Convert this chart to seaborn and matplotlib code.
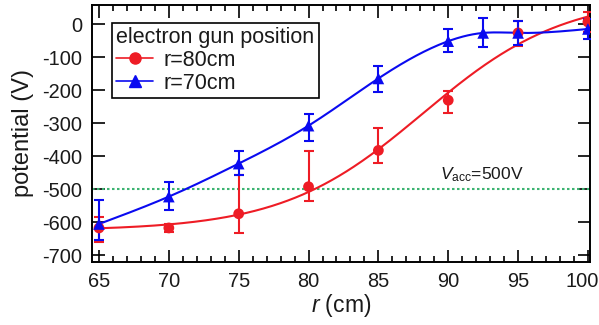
import numpy as np
import pandas as pd
import matplotlib
matplotlib.use("Agg")
import matplotlib.pyplot as plt
import matplotlib.transforms as mtransforms
from matplotlib.lines import Line2D
from matplotlib.ticker import MultipleLocator
import seaborn as sns

# ---- data ----
r80_x = [65, 70, 75, 80, 85, 90, 95, 100]
r80_y = [-618, -618, -575, -493, -383, -231, -27, 6]
r80_err_lo = [42, 12, 58, 44, 37, 38, 40, 30]
r80_err_hi = [32, 12, 118, 107, 69, 28, 36, 31]

r70_x = [65, 70, 75, 80, 85, 90, 92.5, 95, 100]
r70_y = [-606, -523, -423, -308, -165, -52, -27, -27, -15]
r70_err_lo = [48, 40, 34, 45, 42, 33, 43, 37, 31]
r70_err_hi = [73, 45, 37, 34, 37, 37, 45, 36, 30]

series_labels = ["r=80cm", "r=70cm"]
legend_title = "electron gun position"
v_acc = -500
v_acc_label = r"$V_{\rm acc}$=500V"
x_ticks = [65, 70, 75, 80, 85, 90, 95, 100]
y_ticks = [0, -100, -200, -300, -400, -500, -600, -700]

RED = "#ee1c25"
BLUE = "#0a0af0"
GREEN = "#3cb371"
TXT = "#1a1a1a"


def sigmoid_fit(x, y):
    x = np.asarray(x, float)
    y = np.asarray(y, float)
    best = None
    for x0 in np.linspace(80, 95, 151):
        for dx in np.linspace(1.0, 8.0, 141):
            s = 1.0 / (1.0 + np.exp((x - x0) / dx))
            A = np.vstack([s, 1 - s]).T
            coef, *_ = np.linalg.lstsq(A, y, rcond=None)
            res = np.sum((A @ coef - y) ** 2)
            if best is None or res < best[0]:
                best = (res, x0, dx, coef)
    _, x0, dx, (a1, a2) = best
    return lambda t: a2 + (a1 - a2) / (1 + np.exp((t - x0) / dx))


def natural_spline(x, y):
    x = np.asarray(x, float)
    y = np.asarray(y, float)
    n = len(x)
    h = np.diff(x)
    A = np.zeros((n, n))
    b = np.zeros(n)
    A[0, 0] = A[-1, -1] = 1
    for i in range(1, n - 1):
        A[i, i - 1] = h[i - 1]
        A[i, i] = 2 * (h[i - 1] + h[i])
        A[i, i + 1] = h[i]
        b[i] = 6 * ((y[i + 1] - y[i]) / h[i] - (y[i] - y[i - 1]) / h[i - 1])
    M = np.linalg.solve(A, b)

    def f(t):
        t = np.asarray(t, float)
        i = np.clip(np.searchsorted(x, t) - 1, 0, n - 2)
        xi, xi1, hi = x[i], x[i + 1], h[i]
        return (M[i] * (xi1 - t) ** 3 / (6 * hi) + M[i + 1] * (t - xi) ** 3 / (6 * hi)
                + (y[i] - M[i] * hi ** 2 / 6) * (xi1 - t) / hi
                + (y[i + 1] - M[i + 1] * hi ** 2 / 6) * (t - xi) / hi)
    return f


sns.set_theme(style="ticks")
plt.rcParams["font.family"] = ["Liberation Sans", "DejaVu Sans"]
plt.rcParams["axes.unicode_minus"] = False
plt.rcParams["mathtext.fontset"] = "custom"
plt.rcParams["mathtext.rm"] = "Liberation Sans"
plt.rcParams["mathtext.it"] = "Liberation Sans:italic"

fig = plt.figure(figsize=(5.99, 3.25), dpi=100)
ax = fig.add_axes([0.1536, 0.194, 0.8314, 0.791])

# fit curves
t = np.linspace(65, 100, 400)
f80 = sigmoid_fit(r80_x, r80_y)
f70 = natural_spline(r70_x, r70_y)
curves = pd.DataFrame({"r": np.concatenate([t, t]),
                       "V": np.concatenate([f80(t), f70(t)]),
                       "series": [series_labels[0]] * len(t) + [series_labels[1]] * len(t)})
sns.lineplot(data=curves, x="r", y="V", hue="series",
             palette={series_labels[0]: RED, series_labels[1]: BLUE},
             lw=1.5, legend=False, ax=ax, zorder=2)

# reference line
ax.axhline(v_acc, color=GREEN, ls=(0, (1.2, 1.2)), lw=1.5, zorder=1)

# error bars
ax.errorbar(r80_x, r80_y, yerr=[r80_err_lo, r80_err_hi], fmt="none",
            ecolor=RED, elinewidth=1.5, capsize=3.3, capthick=1.5, zorder=3)
ax.errorbar(r70_x, r70_y, yerr=[r70_err_lo, r70_err_hi], fmt="none",
            ecolor=BLUE, elinewidth=1.5, capsize=3.3, capthick=1.5, zorder=4)

# markers
pts = pd.DataFrame({"r": r80_x + r70_x, "V": r80_y + r70_y,
                    "series": [series_labels[0]] * len(r80_x) + [series_labels[1]] * len(r70_x)})
sns.scatterplot(data=pts[pts.series == series_labels[0]], x="r", y="V", color=RED,
                marker="o", s=60, edgecolor="none", legend=False, ax=ax, zorder=5)
sns.scatterplot(data=pts[pts.series == series_labels[1]], x="r", y="V", color=BLUE,
                marker="^", s=70, edgecolor="none", legend=False, ax=ax, zorder=6)

ax.text(92.4, -486, v_acc_label, fontsize=12.5, ha="center", va="bottom", color=TXT)

ax.set_xlim(64.5, 100.15)
ax.set_ylim(-721, 58)
ax.set_xticks(x_ticks)
ax.set_yticks(y_ticks)
ax.xaxis.set_minor_locator(MultipleLocator(1))
ax.tick_params(which="both", direction="in", top=True, right=True, color="black", width=1.2)
ax.tick_params(which="major", length=9, labelsize=14.4, pad=7, labelcolor=TXT)
ax.tick_params(which="minor", length=4)
for sp in ax.spines.values():
    sp.set_visible(True)
    sp.set_color("black")
    sp.set_linewidth(1.4)

# keep the last x tick label inside the figure like the reference
fig.canvas.draw()
last = ax.get_xticklabels()[-1]
last.set_transform(last.get_transform() + mtransforms.ScaledTranslation(-6 / 100, 0, fig.dpi_scale_trans))

ax.set_xlabel(r"$r$ (cm)", fontsize=16.5, color=TXT, labelpad=1)
ax.set_ylabel("potential (V)", fontsize=17, color=TXT, labelpad=6)

handles = [Line2D([], [], color=RED, marker="o", markersize=8, lw=1.2, markeredgecolor=RED),
           Line2D([], [], color=BLUE, marker="^", markersize=8, lw=1.2, markeredgecolor=BLUE)]
leg = ax.legend(handles, series_labels, title=legend_title, loc="upper left",
                bbox_to_anchor=(0.04, 0.93), fontsize=15.5, title_fontsize=15.5,
                frameon=True, fancybox=False, edgecolor="black", framealpha=1,
                handlelength=1.7, handletextpad=0.5, labelspacing=0.08,
                borderpad=0.2, borderaxespad=0.0)
leg.get_frame().set_linewidth(1.2)
leg._legend_box.align = "left"
leg.get_title().set_color(TXT)
for txt in leg.get_texts():
    txt.set_color(TXT)

fig.savefig("out.png", dpi=100)
